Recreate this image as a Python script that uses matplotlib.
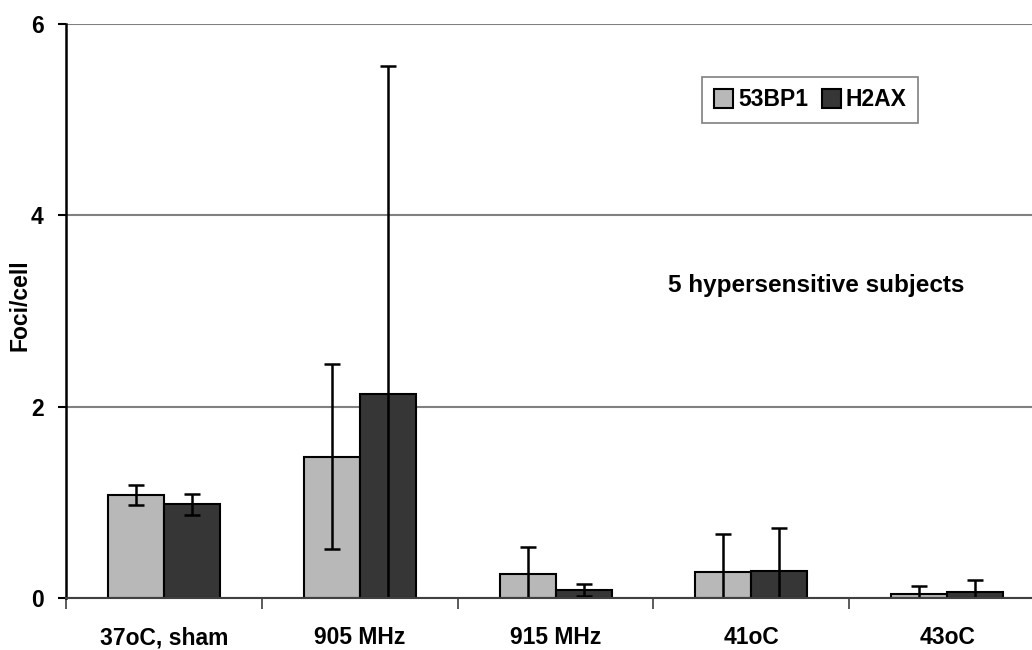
import numpy as np
import matplotlib.pyplot as plt

# data
categories = ['37oC, sham', '905 MHz', '915 MHz', '41oC', '43oC']
bp1_mean = [1.08, 1.48, 0.25, 0.27, 0.045]
bp1_err = [0.105, 0.97, 0.29, 0.40, 0.085]
h2ax_mean = [0.98, 2.13, 0.085, 0.29, 0.07]
h2ax_err = [0.105, 3.43, 0.065, 0.44, 0.12]
series_names = ['53BP1', 'H2AX']
yticks = [0, 2, 4, 6]

plt.rcParams['font.family'] = ['Liberation Sans', 'DejaVu Sans']
plt.rcParams['font.weight'] = 'bold'
fs = 16.5

fig = plt.figure(figsize=(10.32, 6.5), dpi=100)
ax = fig.add_axes([0.064, 0.0795, 0.9487, 0.8843])

x = np.arange(len(categories)) + 0.5
w = 0.286
light = '#b8b8b8'
dark = '#363636'

ax.bar(x - w / 2, bp1_mean, w, color=light, edgecolor='black', linewidth=1.5,
       label=series_names[0], zorder=3)
ax.bar(x + w / 2, h2ax_mean, w, color=dark, edgecolor='black', linewidth=1.5,
       label=series_names[1], zorder=3)
ax.errorbar(x - w / 2, bp1_mean, yerr=bp1_err, fmt='none', ecolor='black',
            elinewidth=1.8, capsize=5.5, capthick=1.8, zorder=4)
ax.errorbar(x + w / 2, h2ax_mean, yerr=h2ax_err, fmt='none', ecolor='black',
            elinewidth=1.8, capsize=5.5, capthick=1.8, zorder=4)

ax.set_xlim(0, len(categories))
ax.set_ylim(0, 6)
ax.set_yticks(yticks)
ax.set_yticklabels([str(t) for t in yticks], fontsize=fs, fontweight='bold')
ax.yaxis.grid(True, color='#808080', linewidth=1.5, zorder=0)

ax.set_xticks(np.arange(len(categories) + 1))
ax.set_xticklabels([])
ax.set_xticks(x, minor=True)
ax.set_xticklabels(categories, minor=True, fontsize=fs, fontweight='bold')
ax.tick_params(axis='x', which='major', length=8, width=1.2, color='#404040')
ax.tick_params(axis='x', which='minor', length=0, pad=20)
ax.tick_params(axis='y', length=6, width=1.5, pad=10)

for s in ['top', 'right']:
    ax.spines[s].set_visible(False)
ax.spines['left'].set_linewidth(1.8)
ax.spines['bottom'].set_linewidth(1.5)
ax.spines['bottom'].set_color('#404040')
ax.spines['bottom'].set_zorder(5)

ax.set_ylabel('Foci/cell', fontsize=fs, fontweight='bold')
ax.yaxis.set_label_coords(-0.035, 0.51)

ax.text(3.83, 3.27, '5 hypersensitive subjects', fontsize=17.5,
        fontweight='bold', ha='center', va='center')

leg = ax.legend(loc='upper left', bbox_to_anchor=(0.65, 0.907), ncol=2,
                borderaxespad=0, frameon=True, fancybox=False,
                handlelength=0.85, handleheight=0.85, handletextpad=0.2,
                columnspacing=0.6, borderpad=0.5,
                prop={'weight': 'bold', 'size': fs})
leg.get_frame().set_edgecolor('#606060')
leg.get_frame().set_linewidth(1.2)

fig.savefig('out.png', dpi=100)
